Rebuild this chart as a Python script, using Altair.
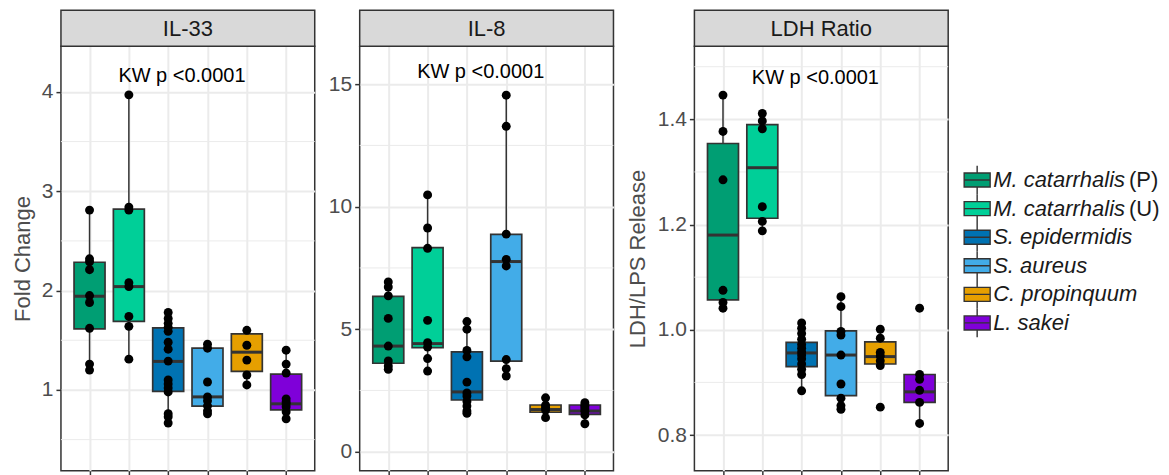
import altair as alt
import pandas as pd

FONT = "Liberation Sans"

groups = ["M. catarrhalis (P)", "M. catarrhalis (U)", "S. epidermidis",
          "S. aureus", "C. propinquum", "L. sakei"]
legend_names = ["M. catarrhalis", "M. catarrhalis", "S. epidermidis",
                "S. aureus", "C. propinquum", "L. sakei"]
legend_suffix = ["(P)", "(U)", "", "", "", ""]
colors = ["#009E73", "#00CF98", "#0072B2", "#42ACE8", "#E69F00", "#7F00D9"]

kw_label = "KW p <0.0001"

# ---------------- IL-33 ----------------
il33_points = [
    [2.81, 2.32, 2.29, 2.21, 1.95, 1.88, 1.62, 1.26, 1.20],
    [3.97, 2.84, 2.81, 2.08, 2.04, 1.74, 1.64, 1.31],
    [1.78, 1.72, 1.67, 1.63, 1.59, 1.48, 1.41, 1.29, 1.10, 1.06, 1.02, 0.98, 0.76, 0.73, 0.667],
    [1.46, 1.42, 1.08, 0.93, 0.89, 0.84, 0.79, 0.76],
    [1.60, 1.45, 1.30, 1.15, 1.05],
    [1.40, 1.26, 1.17, 0.91, 0.88, 0.86, 0.83, 0.78, 0.71],
]
il33_q1 = [1.615, 1.69, 0.985, 0.837, 1.186, 0.80]
il33_med = [1.943, 2.04, 1.287, 0.93, 1.38, 0.86]
il33_q3 = [2.285, 2.82, 1.625, 1.42, 1.565, 1.16]
il33_lo = [1.20, 1.31, 0.667, 0.76, 1.05, 0.71]
il33_hi = [2.81, 3.97, 1.78, 1.46, 1.60, 1.40]
il33_ticks = [1, 2, 3, 4]
il33_minor = [0.5, 1.5, 2.5, 3.5]

# ---------------- IL-8 ----------------
il8_points = [
    [6.93, 6.72, 6.36, 5.44, 4.31, 3.70, 3.50, 3.36],
    [10.48, 9.13, 8.30, 5.36, 4.45, 4.27, 3.80, 3.29],
    [5.31, 5.00, 4.13, 3.87, 2.84, 2.40, 2.27, 2.05, 1.86, 1.66, 1.57],
    [14.55, 13.28, 8.88, 7.85, 7.58, 3.76, 3.39, 3.09],
    [2.20, 1.90, 1.80, 1.70, 1.39],
    [2.00, 1.90, 1.83, 1.75, 1.65, 1.50, 1.14],
]
il8_q1 = [3.61, 4.25, 2.11, 3.70, 1.61, 1.52]
il8_med = [4.31, 4.41, 2.44, 7.76, 1.72, 1.66]
il8_q3 = [6.34, 8.33, 4.07, 8.87, 1.905, 1.905]
il8_lo = [3.36, 3.29, 1.57, 3.09, 1.39, 1.14]
il8_hi = [6.93, 10.48, 5.31, 14.55, 2.20, 2.00]
il8_ticks = [0, 5, 10, 15]
il8_minor = [2.5, 7.5, 12.5]

# ---------------- LDH Ratio ----------------
ldh_points = [
    [1.446, 1.377, 1.285, 1.075, 1.052, 1.041],
    [1.411, 1.397, 1.382, 1.234, 1.206, 1.188],
    [1.013, 1.003, 0.993, 0.982, 0.972, 0.965, 0.958, 0.952, 0.945, 0.935, 0.925, 0.915, 0.884],
    [1.063, 1.044, 0.997, 0.990, 0.952, 0.897, 0.870, 0.856, 0.849],
    [1.001, 0.984, 0.957, 0.950, 0.941, 0.932, 0.853],
    [1.041, 0.915, 0.906, 0.885, 0.862, 0.822],
]
ldh_q1 = [1.057, 1.212, 0.930, 0.875, 0.935, 0.862]
ldh_med = [1.180, 1.308, 0.956, 0.952, 0.949, 0.882]
ldh_q3 = [1.354, 1.390, 0.976, 0.998, 0.977, 0.915]
ldh_lo = [1.041, 1.188, 0.884, 0.849, 0.932, 0.822]
ldh_hi = [1.446, 1.411, 1.013, 1.063, 1.001, 0.915]
ldh_ticks = [0.8, 1.0, 1.2, 1.4]
ldh_minor = [0.9, 1.1, 1.3, 1.5]

W = 254
H = 425
STRIP = 36
BOX_W = 31
EDGE = "#333333"
GRID = "#EBEBEB"


def make_panel(name, pts, q1, med, q3, lo, hi, ydom, yticks, yminor, yfmt,
               ytitle, kw_y, title_pad):
    idx = list(range(1, len(groups) + 1))
    box = pd.DataFrame({"idx": idx, "group": groups, "q1": q1, "med": med,
                        "q3": q3, "lo": lo, "hi": hi})
    rows = []
    for i, vals in enumerate(pts):
        for v in vals:
            rows.append({"idx": i + 1, "value": v})
    pdf = pd.DataFrame(rows)
    minor = pd.DataFrame({"m": yminor})
    kw = pd.DataFrame({"x": [3.35], "y": [kw_y], "t": [kw_label]})
    strip = pd.DataFrame({"t": [name]})

    xs = alt.Scale(domain=[0.4, 6.6], nice=False, zero=False)
    ys = alt.Scale(domain=ydom, nice=False, zero=False)
    xaxis = alt.Axis(values=idx, labels=False, title=None, ticks=True, tickSize=6,
                     tickWidth=1.5, tickColor=EDGE, domain=False, grid=True,
                     gridColor=GRID, gridWidth=2)
    yaxis = alt.Axis(values=yticks, format=yfmt, title=ytitle, ticks=True, tickSize=5,
                     tickWidth=1.5, tickColor=EDGE, domain=False, grid=True,
                     gridColor=GRID, gridWidth=2, labelFont=FONT, labelFontSize=21,
                     labelColor="#4D4D4D", labelPadding=3, titleFont=FONT,
                     titleFontSize=22, titleFontWeight="normal", titleColor="#4D4D4D",
                     titlePadding=title_pad)

    def X(f):
        return alt.X(f, type="quantitative", scale=xs, axis=xaxis)

    def Y(f):
        return alt.Y(f, type="quantitative", scale=ys, axis=yaxis)

    color = alt.Color("group:N", scale=alt.Scale(domain=groups, range=colors), legend=None)

    minor_l = alt.Chart(minor).mark_rule(color=GRID, strokeWidth=1).encode(y=Y("m"))
    whisk = alt.Chart(box).mark_rule(color=EDGE, strokeWidth=1.5).encode(
        x=X("idx"), y=Y("lo"), y2="hi")
    boxes = alt.Chart(box).mark_bar(width=BOX_W, stroke=EDGE, strokeWidth=1.7, opacity=1).encode(
        x=X("idx"), y=Y("q1"), y2="q3", color=color)
    meds = alt.Chart(box).mark_rule(color=EDGE, strokeWidth=3, xOffset=-BOX_W / 2,
                                    x2Offset=BOX_W / 2).encode(
        x=X("idx"), x2="idx", y=Y("med"))
    dots = alt.Chart(pdf).mark_circle(size=80, color="black", opacity=1).encode(
        x=X("idx"), y=Y("value"))
    kwt = alt.Chart(kw).mark_text(font=FONT, fontSize=20, color="black",
                                  align="center", baseline="middle").encode(
        x=X("x"), y=Y("y"), text="t")
    srect = alt.Chart(strip).mark_rect(fill="#D9D9D9", stroke=EDGE, strokeWidth=1.5).encode(
        x=alt.value(0), x2=alt.value(W), y=alt.value(-STRIP), y2=alt.value(0))
    stext = alt.Chart(strip).mark_text(font=FONT, fontSize=22, color="#1A1A1A",
                                       align="center", baseline="middle").encode(
        x=alt.value(W / 2), y=alt.value(-STRIP / 2 + 1), text="t")

    return alt.layer(minor_l, whisk, boxes, meds, dots, kwt, srect, stext).properties(
        width=W, height=H,
        view=alt.ViewBackground(stroke=EDGE, strokeWidth=1.5))


p1 = make_panel("IL-33", il33_points, il33_q1, il33_med, il33_q3, il33_lo, il33_hi,
                [0.186, 4.46], il33_ticks, il33_minor, "d", "Fold Change", 4.16, 7)
p2 = make_panel("IL-8", il8_points, il8_q1, il8_med, il8_q3, il8_lo, il8_hi,
                [-0.78, 16.55], il8_ticks, il8_minor, "d", None, 15.5, 7)
p3 = make_panel("LDH Ratio", ldh_points, ldh_q1, ldh_med, ldh_q3, ldh_lo, ldh_hi,
                [0.732, 1.539], ldh_ticks, ldh_minor, ".1f", "LDH/LPS Release", 1.479, 8)

# ---------------- legend ----------------
leg = pd.DataFrame({"i": list(range(len(groups))), "group": groups,
                    "name": legend_names, "suffix": legend_suffix})
ly = alt.Y("i:Q", scale=alt.Scale(domain=[-4.685, 10.175], reverse=True, nice=False,
                                   zero=False), axis=None)
key_shape = "M-1,-0.54H1V0.54H-1Z M-1,0H1 M0,-0.54V-1.1 M0,0.54V1.1"
keys = alt.Chart(leg).mark_point(shape=key_shape, size=676, filled=True, stroke=EDGE,
                                 strokeWidth=1.4, opacity=1).encode(
    x=alt.value(13), y=ly,
    fill=alt.Fill("group:N", scale=alt.Scale(domain=groups, range=colors), legend=None))
names = alt.Chart(leg).mark_text(font=FONT, fontSize=22, fontStyle="italic", color="#1A1A1A",
                                 align="left", baseline="middle").encode(
    x=alt.value(29), y=ly, text="name")
suffix = alt.Chart(leg).mark_text(font=FONT, fontSize=22, color="#1A1A1A",
                                  align="left", baseline="middle").encode(
    x=alt.value(165), y=ly, text="suffix")
legend = alt.layer(keys, names, suffix).properties(
    width=150, height=H, view=alt.ViewBackground(stroke="transparent"))

chart = alt.hconcat(p1, p2, p3, legend, spacing=10).properties(
    padding={"left": 2, "top": 0, "right": 0, "bottom": 0})

chart.save("out.html", embed_options={"renderer": "svg", "actions": False})
